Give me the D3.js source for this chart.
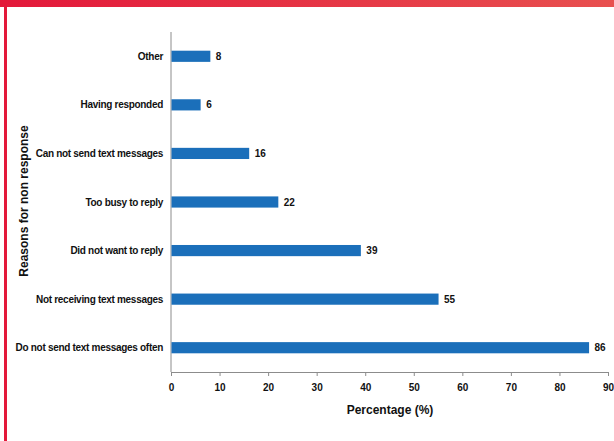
<!DOCTYPE html>
<html>
<head>
<meta charset="utf-8">
<script src="https://cdn.jsdelivr.net/npm/d3@7"></script>
<style>
  body { margin: 0; background: #fff; }
  svg text { font-family: "Liberation Sans", Arial, sans-serif; font-weight: bold; fill: #111; }
</style>
</head>
<body>
<svg id="chart" width="614" height="441"></svg>
<script>
const reasons = [
  "Other",
  "Having responded",
  "Can not send text messages",
  "Too busy to reply",
  "Did not want to reply",
  "Not receiving text messages",
  "Do not send text messages often"
];
const percents = [8, 6, 16, 22, 39, 55, 86];
const xTicks = [0, 10, 20, 30, 40, 50, 60, 70, 80, 90];

const data = reasons.map((r, i) => ({ reason: r, value: percents[i] }));

const svg = d3.select("#chart");

// red frame
const grad = svg.append("defs").append("linearGradient")
  .attr("id", "redband").attr("x1", "0%").attr("x2", "100%");
grad.append("stop").attr("offset", "0%").attr("stop-color", "#e3183a");
grad.append("stop").attr("offset", "100%").attr("stop-color", "#e8504f");
svg.append("rect").attr("x", 0).attr("y", 0).attr("width", 614).attr("height", 7).attr("fill", "url(#redband)");
svg.append("rect").attr("x", 4).attr("y", 0).attr("width", 3).attr("height", 441).attr("fill", "#e3183a");

const plotL = 171, plotR = 608, plotT = 32, plotB = 372;

const x = d3.scaleLinear().domain([0, 90]).range([plotL, plotR]);
const y = d3.scaleBand().domain(reasons).range([plotT, plotB]).paddingInner(0.77).paddingOuter(0.385);

// x axis
const xAxis = svg.append("g")
  .attr("transform", `translate(0,${plotB})`)
  .call(d3.axisBottom(x).tickValues(xTicks).tickSize(4).tickSizeOuter(0));
xAxis.select(".domain").attr("stroke", "#8c8c8c");
xAxis.selectAll(".tick line").attr("stroke", "#8c8c8c");
xAxis.selectAll(".tick text").attr("font-size", 10).attr("dy", "1.2em").attr("fill", "#111");

// y axis line
svg.append("line")
  .attr("x1", plotL).attr("x2", plotL)
  .attr("y1", plotT).attr("y2", plotB)
  .attr("stroke", "#8c8c8c");

// bars
svg.selectAll("rect.bar")
  .data(data)
  .join("rect")
  .attr("class", "bar")
  .attr("x", x(0) + 0.5)
  .attr("y", d => y(d.reason))
  .attr("width", d => x(d.value) - x(0))
  .attr("height", y.bandwidth())
  .attr("fill", "#1b6fba");

// value labels
svg.selectAll("text.val")
  .data(data)
  .join("text")
  .attr("class", "val")
  .attr("x", d => x(d.value) + 6)
  .attr("y", d => y(d.reason) + y.bandwidth() / 2)
  .attr("dy", "0.35em")
  .attr("font-size", 10)
  .text(d => d.value);

// category labels
svg.selectAll("text.cat")
  .data(data)
  .join("text")
  .attr("class", "cat")
  .attr("x", plotL - 8)
  .attr("y", d => y(d.reason) + y.bandwidth() / 2)
  .attr("dy", "0.35em")
  .attr("text-anchor", "end")
  .attr("font-size", 10)
  .attr("letter-spacing", -0.3)
  .text(d => d.reason);

// axis titles
svg.append("text")
  .attr("x", 390)
  .attr("y", 414)
  .attr("text-anchor", "middle")
  .attr("font-size", 12)
  .text("Percentage (%)");

svg.append("text")
  .attr("transform", "translate(28,201) rotate(-90)")
  .attr("text-anchor", "middle")
  .attr("font-size", 12)
  .text("Reasons for non response");
</script>
</body>
</html>
